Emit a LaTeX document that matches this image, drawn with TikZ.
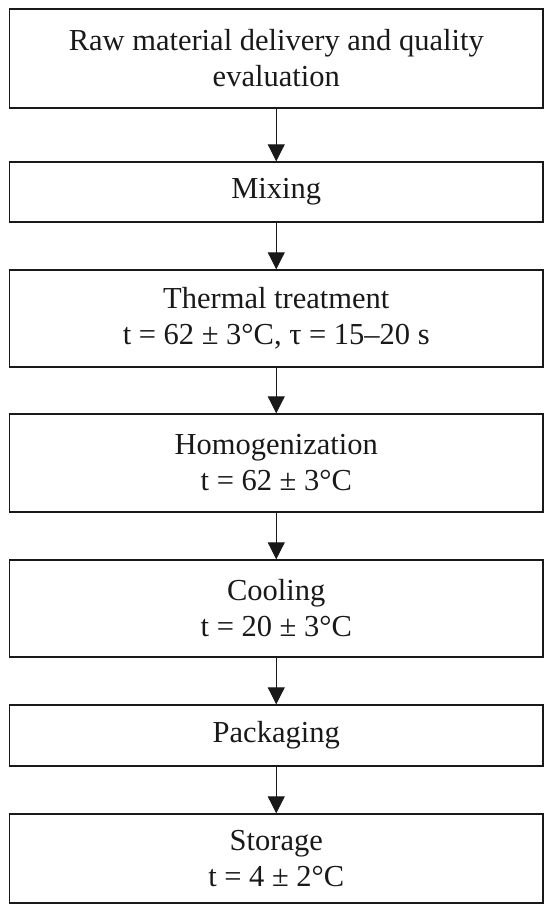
\documentclass[tikz,border=0pt]{standalone}
\usepackage{fontspec}
\setmainfont{Liberation Serif}
\usetikzlibrary{arrows.meta}
\tikzset{
  stepbox/.style={draw=black!90, line width=1.4pt, minimum width=533.5pt, inner sep=0pt,
    align=center, font=\fontsize{30.5}{36}\selectfont, text=black!90},
  flow/.style={draw=black!90, line width=1pt, -{Triangle[width=17pt,length=17pt]}}
}
\begin{document}
\begin{tikzpicture}[x=1pt,y=1pt]
\useasboundingbox (0,0) rectangle (552,-909);
\node[stepbox, minimum height=99pt] (b1) at (276.25,-58.5) {Raw material delivery and quality\\evaluation};
\node[stepbox, minimum height=60pt] (b2) at (276.25,-192) {Mixing};
\node[stepbox, minimum height=97pt] (b3) at (276.25,-318.5) {Thermal treatment\\t = 62 ± 3°C, τ = 15–20 s};
\node[stepbox, minimum height=98pt] (b4) at (276.25,-463) {Homogenization\\t = 62 ± 3°C};
\node[stepbox, minimum height=97pt] (b5) at (276.25,-608.5) {Cooling\\t = 20 ± 3°C};
\node[stepbox, minimum height=61pt] (b6) at (276.25,-735.5) {Packaging};
\node[stepbox, minimum height=89pt] (b7) at (276.25,-858.5) {Storage\\t = 4 ± 2°C};
\draw[flow] (b1) -- (b2);
\draw[flow] (b2) -- (b3);
\draw[flow] (b3) -- (b4);
\draw[flow] (b4) -- (b5);
\draw[flow] (b5) -- (b6);
\draw[flow] (b6) -- (b7);
\end{tikzpicture}
\end{document}
